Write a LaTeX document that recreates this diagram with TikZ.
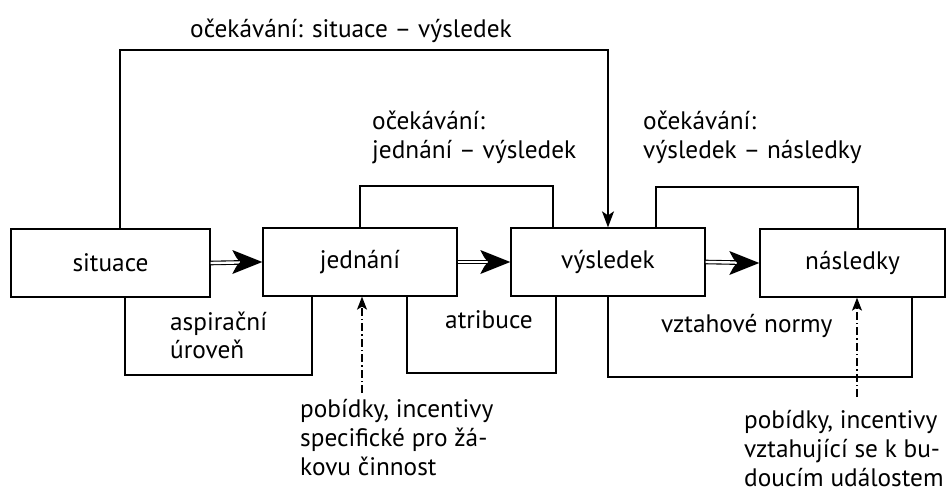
\documentclass[tikz,border=0pt]{standalone}
\usepackage{fontspec}
\setmainfont{PT Sans}
\usetikzlibrary{arrows.meta,calc}
\newcommand\diagfont{\fontsize{25.3}{29}\selectfont}
\begin{document}
\begin{tikzpicture}[x=1pt,y=-1pt,
  box/.style={draw, line width=1.3pt, minimum height=68pt, inner sep=0pt, font=\diagfont},
  lbl/.style={inner sep=0pt, font=\diagfont, align=left},
  ln/.style={line width=1.3pt},
  dbl/.style={double, double distance=2.4pt, line width=1.1pt},
  dhead/.pic={\fill (0,0) -- (-30,-12) .. controls (-26,-4) .. (-22,0) .. controls (-26,4) .. (-30,12) -- cycle;},
  smallhead/.style={line width=1.3pt, -{Stealth[length=16pt,width=12pt,inset=4pt]}},
  dashdot/.style={line width=1.3pt, dash pattern=on 8pt off 3pt on 1.5pt off 3pt, -{Stealth[length=13pt,width=10pt,inset=3pt]}}
]
\useasboundingbox[fill=white] (0,0) rectangle (946,495);

% boxes
\node[box, minimum width=199pt] (s) at (110.5,263) {situace};
\node[box, minimum width=194pt] (j) at (360,262) {jednání};
\node[box, minimum width=194pt] (v) at (608,262) {výsledek};
\node[box, minimum width=185pt] (n) at (852.5,263) {následky};

% double arrows between boxes
\draw[dbl, shorten >=18pt] (s.east) -- (j.west);
\pic at (j.west) {dhead};
\draw[dbl, shorten >=18pt] (j.east) -- (v.west);
\pic at (v.west) {dhead};
\draw[dbl, shorten >=18pt] (v.east) -- (n.west);
\pic at (n.west) {dhead};

% top loops
\coordinate (t1) at (120,50);
\draw[smallhead] (s.north -| t1) -- (t1) -- (t1 -| v.north) -- (v.north);
\coordinate (t2) at (553,186);
\draw[ln] (j.north) |- (t2) -- (t2 |- v.north);
\coordinate (t3a) at (656,187);
\coordinate (t3b) at (858,187);
\draw[ln] (t3a |- v.north) -- (t3a) -- (t3b) -- (t3b |- n.north);

% bottom loops
\coordinate (b1a) at (125,375);
\coordinate (b1b) at (312,375);
\draw[ln] (b1a |- s.south) -- (b1a) -- (b1b) -- (b1b |- j.south);
\coordinate (b2a) at (407,373);
\coordinate (b2b) at (556,373);
\draw[ln] (b2a |- j.south) -- (b2a) -- (b2b) -- (b2b |- v.south);
\coordinate (b3b) at (912,377);
\draw[ln] (v.south) |- (b3b) -- (b3b |- n.south);

% incentive arrows
\coordinate (i1) at (362,393);
\draw[dashdot] (i1) -- (i1 |- j.south);
\coordinate (i2) at (857,397);
\draw[dashdot] (i2) -- (i2 |- n.south);

% labels
\node[lbl, anchor=base west] (l0) at (190,38) {očekávání: situace – výsledek};
\node[lbl, anchor=base west] (l1) at (372,129) {očekávání:};
\node[lbl, anchor=base west] (l1b) at (372,158) {jednání – výsledek};
\node[lbl, anchor=base west] (l2) at (643,129) {očekávání:};
\node[lbl, anchor=base west] (l2b) at (643,158) {výsledek – následky};
\node[lbl, anchor=base west] (a1) at (170,330) {aspirační};
\node[lbl, anchor=base west] (a1b) at (170,358) {úroveň};
\node[lbl, anchor=base west] (a2) at (445,328) {atribuce};
\node[lbl, anchor=base west] (a3) at (661,332) {vztahové normy};
\node[lbl, anchor=base west] (p1) at (300,417) {pobídky, incentivy};
\node[lbl, anchor=base west] (p1b) at (300,446) {specifické pro žá-};
\node[lbl, anchor=base west] (p1c) at (300,475) {kovu činnost};
\node[lbl, anchor=base west] (p2) at (744,428) {pobídky, incentivy};
\node[lbl, anchor=base west] (p2b) at (744,457) {vztahující se k bu-};
\node[lbl, anchor=base west] (p2c) at (744,486) {doucím událostem};
\end{tikzpicture}
\end{document}
